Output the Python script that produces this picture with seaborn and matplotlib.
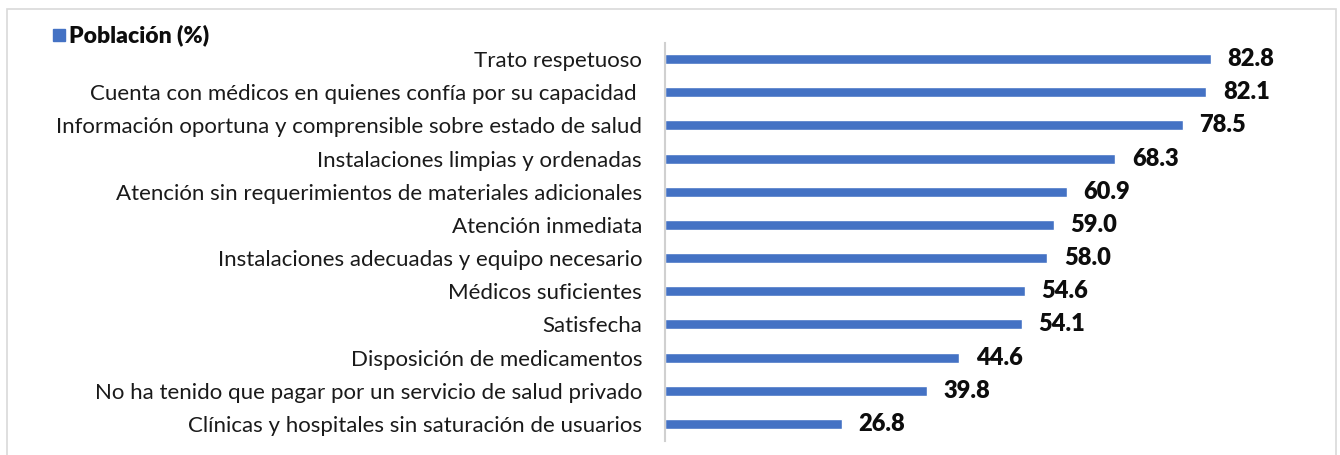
import matplotlib
matplotlib.use("Agg")
import matplotlib.pyplot as plt
import seaborn as sns
import pandas as pd
from matplotlib.patches import Rectangle

# datos de la grafica
categorias = [
    "Trato respetuoso",
    "Cuenta con médicos en quienes confía por su capacidad ",
    "Información oportuna y comprensible sobre estado de salud",
    "Instalaciones limpias y ordenadas",
    "Atención sin requerimientos de materiales adicionales",
    "Atención inmediata",
    "Instalaciones adecuadas y equipo necesario",
    "Médicos suficientes",
    "Satisfecha",
    "Disposición de medicamentos",
    "No ha tenido que pagar por un servicio de salud privado",
    "Clínicas y hospitales sin saturación de usuarios",
]
poblacion = [82.8, 82.1, 78.5, 68.3, 60.9, 59.0, 58.0, 54.6, 54.1, 44.6, 39.8, 26.8]
serie = "Población (%)"

sns.set_style("white")
plt.rcParams["font.family"] = ["Lato", "DejaVu Sans"]

df = pd.DataFrame({"categoria": categorias, serie: poblacion})
azul = "#4472C4"

fig = plt.figure(figsize=(13.4, 4.55), dpi=100)
ax = fig.add_axes([665 / 1340, 1 - 440.5 / 455, 659.4 / 1340, 398 / 455])

sns.barplot(data=df, y="categoria", x=serie, color=azul, width=0.3,
            saturation=1, ax=ax)
ax.set_xlim(0, 100)
ax.set_ylim(11.5, -0.5)
ax.set_xlabel("")
ax.set_ylabel("")
ax.set_xticks([])
ax.tick_params(axis="y", length=0, pad=16.5, labelsize=16, labelcolor="#1a1a1a")
for s in ["top", "right", "bottom"]:
    ax.spines[s].set_visible(False)
ax.spines["left"].set_color("#d0d0d0")
ax.spines["left"].set_linewidth(1.5)

for i, v in enumerate(poblacion):
    ax.text(v + 2.5, i, f"{v:.1f}", va="center", ha="left",
            fontsize=17, fontweight="heavy", color="#0d0d0d")

# leyenda manual arriba a la izquierda
fig.patches.append(Rectangle((53 / 1340, 1 - 41 / 455), 12 / 1340, 12 / 455,
                             transform=fig.transFigure, color=azul))
fig.text(69 / 1340, 1 - 35 / 455, serie, fontsize=16.5, fontweight="heavy",
         va="center", ha="left", color="#0d0d0d")

# marco del grafico
fig.patches.append(Rectangle((7 / 1340, -0.05), 1329 / 1340, 1.05 - 9 / 455,
                             transform=fig.transFigure, fill=False,
                             edgecolor="#d9d9d9", linewidth=1.2))

fig.savefig("out.png", dpi=100)
